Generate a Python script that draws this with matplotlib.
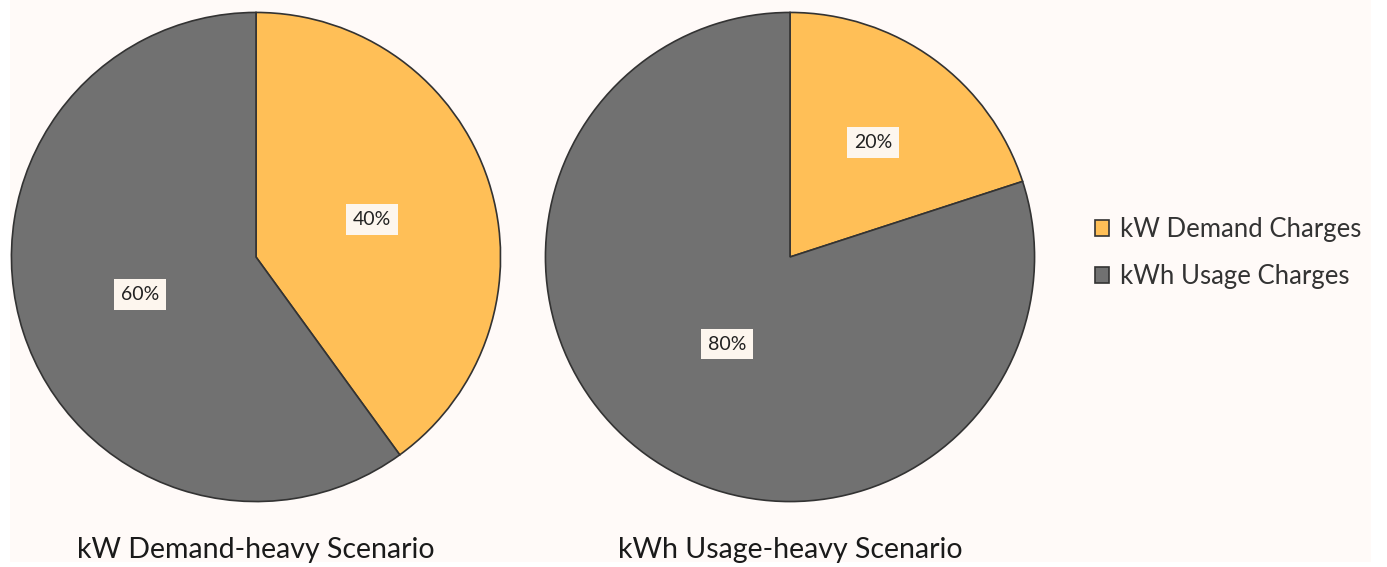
import numpy as np
import matplotlib.pyplot as plt
from matplotlib.patches import Rectangle, Patch

# 数据
categories = ['kW Demand Charges', 'kWh Usage Charges']
demand_heavy = [40, 60]
usage_heavy = [20, 80]
titles = ['kW Demand-heavy Scenario', 'kWh Usage-heavy Scenario']

colors = ['#FFBF57', '#717171']
edge = '#333333'
bg = '#FFFAF8'

plt.rcParams['font.family'] = ['Lato', 'DejaVu Sans']

W, H = 1387, 567
fig = plt.figure(figsize=(W / 100, H / 100), dpi=100)
fig.patch.set_facecolor('white')
# 浅色底
fig.add_artist(Rectangle((10 / W, 5 / H), (1371 - 10) / W, 1 - 5 / H,
                         transform=fig.transFigure, facecolor=bg,
                         edgecolor='none', zorder=-10))


def px_axes(x0, y0, x1, y1):
    # 像素坐标 (左上原点) 转成 figure 坐标
    return fig.add_axes([x0 / W, 1 - y1 / H, (x1 - x0) / W, (y1 - y0) / H])


def draw_pie(ax, vals, pct_dist, title):
    wedges, _ = ax.pie(vals, colors=colors, startangle=90, counterclock=False,
                       radius=1, wedgeprops=dict(edgecolor=edge, linewidth=1.2))
    for w, v, d in zip(wedges, vals, pct_dist):
        ang = np.deg2rad((w.theta1 + w.theta2) / 2)
        ax.text(d * np.cos(ang), d * np.sin(ang), f'{v}%', ha='center',
                va='center', fontsize=14, color='#222222',
                bbox=dict(boxstyle='square,pad=0.35', facecolor='#FDF6EE',
                          edgecolor='none'))
    ax.set_xlim(-1.01, 1.01)
    ax.set_ylim(-1.01, 1.01)
    ax.set_aspect('equal')
    ax.axis('off')
    ax.text(0, -1.2, title, ha='center', va='center', fontsize=20.5,
            color='#1a1a1a')


ax1 = px_axes(9, 10, 503, 504)
draw_pie(ax1, demand_heavy, [0.5, 0.5], titles[0])

ax2 = px_axes(543, 10, 1037, 504)
draw_pie(ax2, usage_heavy, [0.58, 0.44], titles[1])

handles = [Patch(facecolor=c, edgecolor=edge, linewidth=1.2) for c in colors]
fig.legend(handles, categories, loc='center left',
           bbox_to_anchor=(1072 / W, 1 - 253 / H), frameon=False,
           fontsize=18.5, handlelength=0.55, handleheight=0.55,
           handletextpad=0.4, labelspacing=0.85, labelcolor='#333333')

plt.savefig('out.png', dpi=100, facecolor=fig.get_facecolor())
